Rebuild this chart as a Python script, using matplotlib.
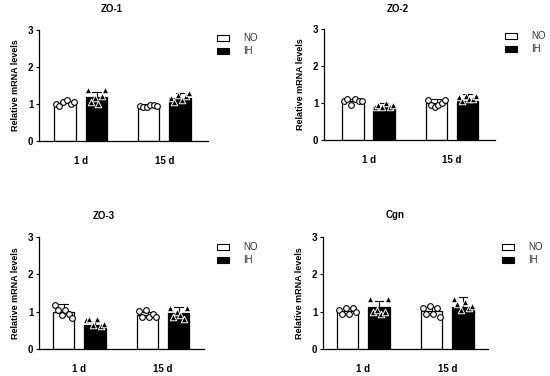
import matplotlib
matplotlib.use("Agg")
import matplotlib.pyplot as plt
from matplotlib.patches import Rectangle

plt.rcParams['font.family'] = ['Liberation Sans', 'DejaVu Sans']

titles = ["ZO-1", "ZO-2", "ZO-3", "Cgn"]
groups = ["1 d", "15 d"]
series = ["NO", "IH"]

# bar means: [NO 1d, IH 1d, NO 15d, IH 15d]
zo1_mean = [1.03, 1.19, 0.94, 1.17]
zo2_mean = [1.06, 0.90, 1.00, 1.05]
zo3_mean = [1.00, 0.65, 0.92, 0.96]
cgn_mean = [1.01, 1.12, 1.01, 1.13]

# upper error bar ends
zo1_err = [1.10, 1.33, 1.00, 1.30]
zo2_err = [1.12, 1.00, 1.10, 1.25]
zo3_err = [1.20, 0.72, 1.00, 1.12]
cgn_err = [1.10, 1.28, 1.12, 1.38]

# individual points
zo1_pts = [[1.00, 0.95, 1.05, 1.10, 1.00, 1.05],
           [1.37, 1.05, 1.15, 1.00, 1.20, 1.37],
           [0.95, 0.90, 0.92, 0.98, 0.97, 0.93],
           [1.15, 1.05, 1.25, 1.10, 1.20, 1.30]]
zo2_pts = [[1.05, 1.10, 0.95, 1.10, 1.05, 1.05],
           [0.88, 0.95, 0.90, 1.00, 0.90, 0.95],
           [1.08, 0.95, 0.90, 0.95, 1.00, 1.08],
           [1.15, 1.05, 1.20, 1.10, 1.10, 1.20]]
zo3_pts = [[1.18, 1.05, 0.90, 1.05, 0.95, 0.83],
           [0.78, 0.80, 0.65, 0.80, 0.62, 0.68],
           [1.02, 0.85, 1.05, 0.85, 0.95, 0.85],
           [1.10, 0.85, 1.00, 0.90, 0.80, 1.10]]
cgn_pts = [[1.05, 0.95, 1.10, 0.95, 1.10, 1.00],
           [1.35, 1.00, 1.05, 0.95, 1.00, 1.35],
           [1.10, 0.95, 1.15, 0.95, 1.10, 0.85],
           [1.35, 1.20, 1.05, 1.25, 1.10, 1.15]]

means = [zo1_mean, zo2_mean, zo3_mean, cgn_mean]
errs = [zo1_err, zo2_err, zo3_err, cgn_err]
pts = [zo1_pts, zo2_pts, zo3_pts, cgn_pts]
yticks = [0, 1, 2, 3]

W, H = 550, 376
fig = plt.figure(figsize=(5.5, 3.76), dpi=100)

# axes pixel boxes: (left, right, top(y=3), bottom(y=0))
boxes = [(39, 208, 30, 140.7), (324, 495, 29, 140),
         (39, 204, 237, 349), (323, 488, 237, 349)]
centers_px = [(65, 96.5, 148.5, 180), (353, 384, 436.5, 467.5),
              (63.5, 95, 147.5, 178.5), (347.5, 379, 431.5, 463)]
title_pos = [(112, 9), (398, 9), (104, 216), (395, 215)]
legend_pos = [(217, 35), (505, 33), (217, 244), (502, 244)]

offsets = [-0.26, -0.16, -0.05, 0.05, 0.16, 0.26]

for k in range(4):
    l, r, t, b = boxes[k]
    ax = fig.add_axes([l / W, 1 - b / H, (r - l) / W, (b - t) / H])
    c = centers_px[k]
    unit = c[1] - c[0]
    xs = [(cc - c[0]) / unit for cc in c]
    ax.set_xlim((l - c[0]) / unit, (r - c[0]) / unit)
    ax.set_ylim(0, 3)
    bw = 21.5 / unit
    colors = ["white", "black", "white", "black"]
    for i in range(4):
        m = means[k][i]
        ax.bar(xs[i], m, width=bw, color=colors[i], edgecolor="black",
               linewidth=0.9, zorder=2)
        ecol = "black"
        ax.plot([xs[i], xs[i]], [m, errs[k][i]], color=ecol, lw=0.8, zorder=3,
                clip_on=False)
        ax.plot([xs[i] - bw * 0.2, xs[i] + bw * 0.2], [errs[k][i]] * 2,
                color=ecol, lw=0.8, zorder=3, clip_on=False)
        px = [xs[i] + o * bw * 1.6 for o in offsets]
        if i % 2 == 0:
            ax.scatter(px, pts[k][i], s=17, marker="o", facecolor="white",
                       edgecolor="black", linewidth=0.8, zorder=4, clip_on=False)
        else:
            ax.scatter(px, pts[k][i], s=22, marker="^", facecolor="black",
                       edgecolor="white", linewidth=0.7, zorder=4, clip_on=False)
    ax.set_xticks([(xs[0] + xs[1]) / 2, (xs[2] + xs[3]) / 2])
    ax.set_xticklabels(groups, fontsize=7, fontweight="bold")
    ax.tick_params(axis="x", length=0, pad=11)
    ax.set_yticks(yticks)
    ax.set_yticklabels([str(v) for v in yticks], fontsize=7, fontweight="bold")
    ax.tick_params(axis="y", length=2.5, width=0.8, pad=1.5, direction="out")
    for s in ["top", "right"]:
        ax.spines[s].set_visible(False)
    for s in ["left", "bottom"]:
        ax.spines[s].set_linewidth(0.9)
    ax.set_ylabel("Relative mRNA levels", fontsize=6.5, fontweight="bold",
                  labelpad=6)

    tx, ty = title_pos[k]
    fig.text(tx / W, 1 - ty / H, titles[k], fontsize=7, fontweight="bold",
             ha="center", va="center")

    lx, ly = legend_pos[k]
    for j, (name, fc) in enumerate(zip(series, ["white", "black"])):
        yy = ly + j * 13
        fig.patches.append(Rectangle((lx / W, 1 - (yy + 6) / H), 12 / W, 6 / H,
                                     facecolor=fc, edgecolor="black", lw=0.8,
                                     transform=fig.transFigure, figure=fig))
        fig.text((lx + 26) / W, 1 - (yy + 3) / H, name, fontsize=7,
                 color="#333333", ha="left", va="center")

fig.savefig("out.png", dpi=100)
